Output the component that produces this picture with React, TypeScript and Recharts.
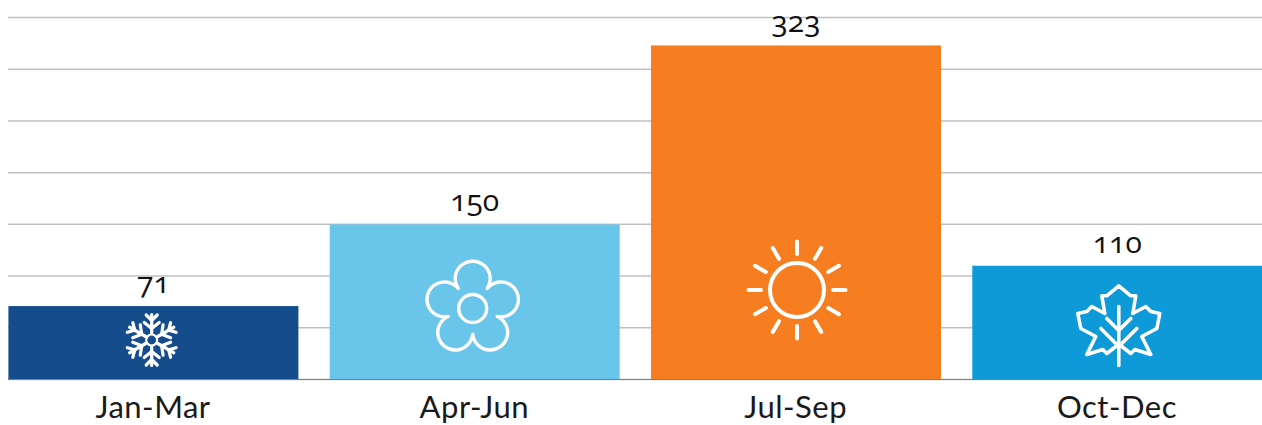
import React from 'react';
import { BarChart, Bar, XAxis, YAxis, CartesianGrid, LabelList, Cell } from 'recharts';

const quarters = ['Jan-Mar', 'Apr-Jun', 'Jul-Sep', 'Oct-Dec'];
const visitors = [71, 150, 323, 110];
const barColors = ['#154c8c', '#69c5ea', '#f67d20', '#0e99d9'];
const yTicks = [0, 50, 100, 150, 200, 250, 300, 350];

const chartData = quarters.map((quarter, i) => ({ quarter, visitors: visitors[i] }));

const tickStyle: React.CSSProperties = { fontFamily: 'Lato, sans-serif', letterSpacing: 0.5 };
const valueStyle: React.CSSProperties = { fontFamily: '"Open Sans", sans-serif', fontFeatureSettings: '"onum"' };

const Snowflake = () => (
  <g fill="none" stroke="#fff" strokeWidth={3.2} strokeLinecap="round" strokeLinejoin="round">
    <circle r={5.5} strokeWidth={2.2} />
    {[0, 60, 120, 180, 240, 300].map((a) => (
      <g key={a} transform={`rotate(${a})`}>
        <path d="M0 -7V-25.5" />
        <path d="M-5.5 -25L0 -19.5L5.5 -25" />
        <path d="M-7.5 -17.5L0 -11.5L7.5 -17.5" />
      </g>
    ))}
  </g>
);

const Flower = () => (
  <g fill="none" stroke="#fff" strokeWidth={3.4} strokeLinejoin="round">
    <path d="M-14.5 -20A17.5 17.5 0 1 1 14.5 -20A17.5 17.5 0 1 1 24.5 8A17.5 17.5 0 1 1 0 25.7A17.5 17.5 0 1 1 -24.5 8A17.5 17.5 0 1 1 -14.5 -20Z" />
    <circle r={14} />
  </g>
);

const Sun = () => (
  <g fill="none" stroke="#fff" strokeWidth={4} strokeLinecap="round">
    <circle r={27} />
    {[0, 30, 60, 90, 120, 150, 180, 210, 240, 270, 300, 330].map((a) => (
      <path key={a} d="M0 -36V-48.5" transform={`rotate(${a})`} />
    ))}
  </g>
);

const Leaf = () => (
  <g fill="none" stroke="#fff" strokeWidth={3.6} strokeLinecap="round" strokeLinejoin="round">
    <path d="M0 -40.7L12 -30.7L17 -30.7L14 -13L27 -20L32 -15L41 -13L38 2L23 10L32 28L16 23L12 27L3 20L-3 20L-12 27L-16 23L-32 28L-23 10L-38 2L-41 -13L-32 -15L-27 -20L-14 -13L-17 -30.7L-12 -30.7Z" />
    <path d="M0 -20V39" />
    <path d="M-12 -8L0 4L12 -8" />
    <path d="M-18 2L0 20L18 2" />
  </g>
);

// icon, how far its centre sits above the baseline, and its nudge off the bar centre
const icons = [
  { Icon: Snowflake, lift: 39.5, nudge: -1.7 },
  { Icon: Flower, lift: 71, nudge: -2 },
  { Icon: Sun, lift: 89.5, nudge: 1 },
  { Icon: Leaf, lift: 53, nudge: 1.5 },
];

const IconBar = (props: any) => {
  const { x, y, width, height, fill, index } = props;
  const { Icon, lift, nudge } = icons[index];
  return (
    <g>
      <rect x={x} y={y} width={width} height={height} fill={fill} />
      <g transform={`translate(${x + width / 2 + nudge},${y + height - lift})`}>
        <Icon />
      </g>
    </g>
  );
};

const App: React.FC = () => {
  return (
    <div style={{ position: 'absolute', left: 0, top: 0 }}>
      <BarChart
        width={1262}
        height={425}
        data={chartData}
        margin={{ top: 17.5, right: 0, bottom: 0, left: 8 }}
        barSize={290}
      >
        <CartesianGrid vertical={false} stroke="#bfbfbf" strokeWidth={1.5} />
        <XAxis
          dataKey="quarter"
          height={45.5}
          axisLine={{ stroke: '#808080', strokeWidth: 1 }}
          tickLine={false}
          interval={0}
          padding={{ left: -15.6, right: -15.6 }}
          tick={{ fontSize: 31, fill: '#1a1a1a', dy: 8, style: tickStyle }}
        />
        <YAxis hide domain={[0, 350]} ticks={yTicks} />
        <Bar dataKey="visitors" isAnimationActive={false} shape={IconBar}>
          {chartData.map((d, i) => (
            <Cell key={d.quarter} fill={barColors[i]} />
          ))}
          <LabelList
            dataKey="visitors"
            position="top"
            offset={13}
            fill="#111111"
            fontSize={30}
            style={valueStyle}
          />
        </Bar>
      </BarChart>
    </div>
  );
};

export default App;
